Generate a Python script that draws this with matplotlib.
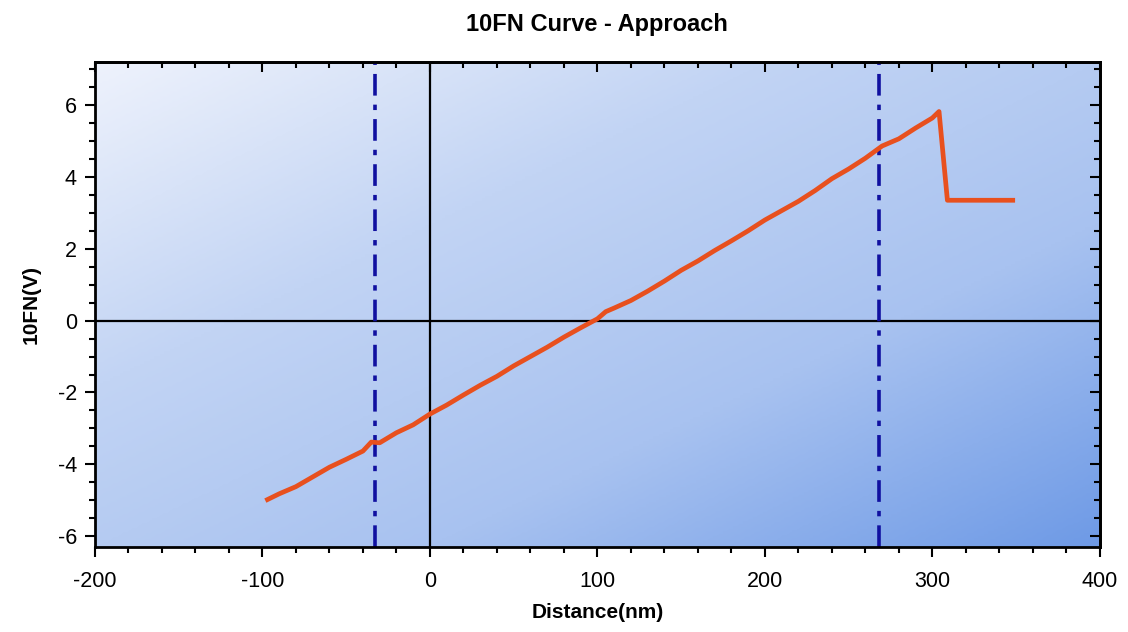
import numpy as np
import matplotlib.pyplot as plt
from matplotlib.colors import LinearSegmentedColormap
from matplotlib.ticker import MultipleLocator

# Data
distance = [-97, -90, -80, -70, -60, -50, -40, -35, -30, -20, -10, 0, 10, 20,
            30, 40, 50, 60, 70, 80, 90, 100, 105, 110, 120, 130, 140, 150,
            160, 170, 180, 190, 200, 210, 220, 230, 240, 250, 260, 270, 280,
            290, 300, 304, 309, 348]
signal = [-4.98, -4.82, -4.62, -4.35, -4.08, -3.86, -3.63, -3.38, -3.40,
          -3.12, -2.90, -2.60, -2.35, -2.07, -1.80, -1.55, -1.26, -1.00,
          -0.74, -0.46, -0.20, 0.05, 0.25, 0.35, 0.56, 0.82, 1.10, 1.40,
          1.66, 1.95, 2.22, 2.50, 2.80, 3.06, 3.32, 3.62, 3.95, 4.22, 4.52,
          4.86, 5.06, 5.36, 5.64, 5.82, 3.35, 3.35]
markers_x = [-33, 268]

plt.rcParams['font.family'] = ['Liberation Sans', 'DejaVu Sans']
plt.rcParams['axes.unicode_minus'] = False

fig = plt.figure(figsize=(11.28, 6.32), dpi=100)
ax = fig.add_axes([0.0842, 0.1345, 0.8908, 0.7675])

xlim = (-200, 400)
ylim = (-6.3, 7.2)

# diagonal gradient background, light top-left -> darker bottom-right
cmap = LinearSegmentedColormap.from_list(
    'bg', ['#eef2fc', '#c2d4f4', '#a8c2f0', '#6e9ae6'])
gx, gy = np.meshgrid(np.linspace(0, 1, 300), np.linspace(0, 1, 200))
grad = 0.5 * gx + 0.5 * gy
ax.imshow(grad, extent=[xlim[0], xlim[1], ylim[0], ylim[1]], origin='upper',
          aspect='auto', cmap=cmap, zorder=0, interpolation='bilinear')

ax.axhline(0, color='black', lw=1.6, zorder=1)
ax.axvline(0, color='black', lw=1.6, zorder=1)
for xm in markers_x:
    ax.axvline(xm, color='#1010a0', lw=2.6, linestyle=(0, (6, 2.5, 1.5, 2.5)),
               zorder=2)

ax.plot(distance, signal, color='#e8501e', lw=3.4, zorder=3,
        solid_joinstyle='round')

ax.set_xlim(*xlim)
ax.set_ylim(*ylim)
ax.xaxis.set_major_locator(MultipleLocator(100))
ax.xaxis.set_minor_locator(MultipleLocator(20))
ax.yaxis.set_major_locator(MultipleLocator(2))
ax.yaxis.set_minor_locator(MultipleLocator(0.5))
ax.tick_params(which='both', direction='out', width=1.5, labelsize=15.5,
               color='black')
ax.tick_params(which='major', length=7)
ax.tick_params(which='minor', length=4)
ax.tick_params(axis='x', pad=10)
ax.tick_params(axis='y', pad=6)

# top and right: inward ticks, no labels
top = ax.secondary_xaxis('top')
top.xaxis.set_major_locator(MultipleLocator(100))
top.xaxis.set_minor_locator(MultipleLocator(20))
top.tick_params(which='both', direction='in', width=1.5, labeltop=False)
top.tick_params(which='major', length=7)
top.tick_params(which='minor', length=4)
right = ax.secondary_yaxis('right')
right.yaxis.set_major_locator(MultipleLocator(2))
right.yaxis.set_minor_locator(MultipleLocator(0.5))
right.tick_params(which='both', direction='in', width=1.5, labelright=False)
right.tick_params(which='major', length=7)
right.tick_params(which='minor', length=4)
for s in list(ax.spines.values()) + [top.spines['top'], right.spines['right']]:
    s.set_linewidth(2)

ax.set_title('10FN Curve - Approach', fontsize=17, fontweight='bold', pad=22)
ax.set_xlabel('Distance(nm)', fontsize=15, fontweight='bold', labelpad=8)
ax.set_ylabel('10FN(V)', fontsize=15, fontweight='bold', labelpad=12)

fig.savefig('out.png', dpi=100)
